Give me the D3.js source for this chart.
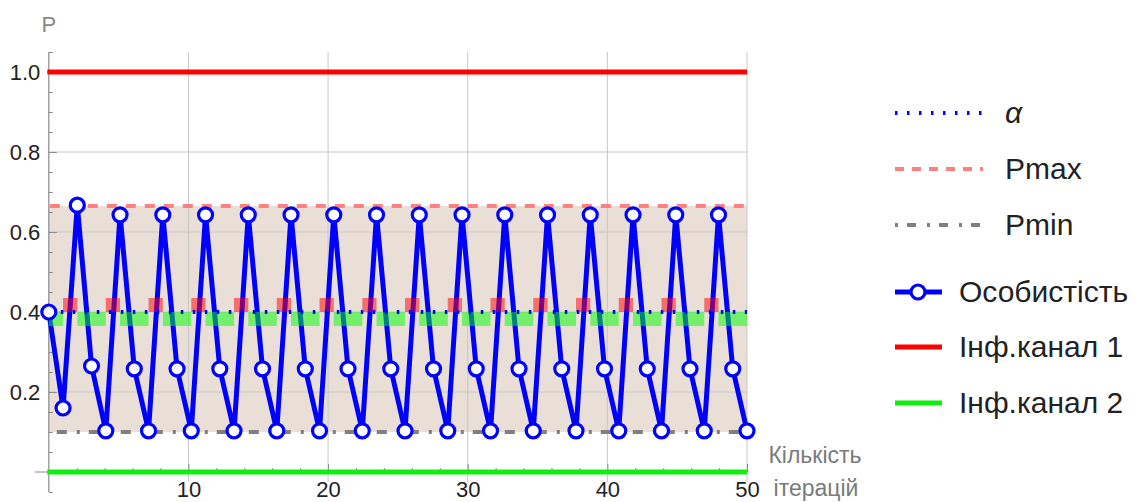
<!DOCTYPE html>
<html><head><meta charset="utf-8">
<script src="https://cdn.jsdelivr.net/npm/d3@7"></script>
<style>body{margin:0;background:#fff}svg{display:block;font-family:"Liberation Sans",Arial,sans-serif}</style>
</head><body>
<svg id="c" width="1137" height="502"></svg>
<script>
// ---- data ----
const personality = [0.40, 0.16, 0.667, 0.265, 0.103,
  0.643, 0.258, 0.103, 0.643, 0.258, 0.103, 0.643, 0.258, 0.103,
  0.643, 0.258, 0.103, 0.643, 0.258, 0.103, 0.643, 0.258, 0.103,
  0.643, 0.258, 0.103, 0.643, 0.258, 0.103, 0.643, 0.258, 0.103,
  0.643, 0.258, 0.103, 0.643, 0.258, 0.103, 0.643, 0.258, 0.103,
  0.643, 0.258, 0.103, 0.643, 0.258, 0.103, 0.643, 0.258, 0.103];
// channel used at each step (1 = Інф.канал 1, 2 = Інф.канал 2)
const channels = [2,
  1,2,2, 1,2,2, 1,2,2, 1,2,2, 1,2,2, 1,2,2, 1,2,2, 1,2,2,
  1,2,2, 1,2,2, 1,2,2, 1,2,2, 1,2,2, 1,2,2, 1,2,2, 1,2,2];
const alpha = 0.4;
const pMax = 0.665;
const pMin = 0.1;
const channel1Level = 1.0;
const channel2Level = 0.0;
const xRange = [0, 50];
const xTickValues = [10, 20, 30, 40, 50];
const xTickLabels = ["10", "20", "30", "40", "50"];
const yTickValues = [0.2, 0.4, 0.6, 0.8, 1.0];
const yTickLabels = ["0.2", "0.4", "0.6", "0.8", "1.0"];
const legendItems = ["α", "Pmax", "Pmin", "Особистість", "Інф.канал 1", "Інф.канал 2"];
const xAxisTitle = ["Кількість", "ітерацій"];
const yAxisTitle = "P";

// ---- scales ----
const svg = d3.select("#c");
const x = d3.scaleLinear().domain(xRange).range([48.8, 747]);
const y = d3.scaleLinear().domain([-0.05, 1.05]).range([492, 52]);
const idx = d3.scaleLinear().domain([0, personality.length - 1]).range(xRange);
const px = i => x(idx(i));

const BLUE = "#0000ff", RED = "#ff0000", GREEN = "#10ee10", PINK = "#ff8080", GRAY = "#808080";

// fill between Pmin and Pmax
svg.append("path")
  .datum(xRange)
  .attr("d", d3.area().x(d => x(d)).y0(y(pMin)).y1(y(pMax)))
  .attr("fill", "#e9dfd6");

// gridlines
const grid = svg.append("g").attr("stroke", "#c8c8c8").attr("stroke-width", 1);
grid.selectAll("line.v").data(xTickValues).join("line")
  .attr("x1", d => x(d)).attr("x2", d => x(d))
  .attr("y1", y(1.05)).attr("y2", 482);
grid.selectAll("line.h").data(yTickValues).join("line")
  .attr("x1", x(xRange[0])).attr("x2", x(xRange[1]))
  .attr("y1", d => y(d)).attr("y2", d => y(d));

// axes
const axisColor = "#8a8a8a";
svg.append("line").attr("x1", x(0)).attr("x2", x(0)).attr("y1", y(1.05)).attr("y2", y(-0.05))
  .attr("stroke", axisColor).attr("stroke-width", 1.2);
svg.append("line").attr("x1", 35).attr("x2", x(50)).attr("y1", y(0)).attr("y2", y(0))
  .attr("stroke", axisColor).attr("stroke-width", 1.2);

const minorY = d3.range(-1, 22).map(k => k * 0.05).filter(v => Math.abs(Math.round(v * 5) - v * 5) > 1e-6);
const gyMinor = svg.append("g").attr("transform", `translate(${x(0)},0)`)
  .call(d3.axisRight(y).tickValues(minorY).tickSize(4).tickFormat(""));
const gyMajor = svg.append("g").attr("transform", `translate(${x(0)},0)`)
  .call(d3.axisRight(y).tickValues([0].concat(yTickValues)).tickSize(8).tickFormat(""));
[gyMinor, gyMajor].forEach(g => { g.select(".domain").remove(); g.selectAll("line").attr("stroke", axisColor); });

const gyLab = svg.append("g").attr("transform", `translate(${x(0)},0)`)
  .call(d3.axisLeft(y).tickValues(yTickValues).tickSize(0).tickPadding(8.5)
    .tickFormat((d, i) => yTickLabels[i]));
gyLab.select(".domain").remove();
gyLab.selectAll("text").attr("font-size", 22).attr("fill", "#222").attr("font-family", "Liberation Sans, Arial, sans-serif").attr("dy", "0.36em");

const minorX = d3.range(1, 26).map(k => k * 2).filter(v => v % 10 !== 0);
const gxMinor = svg.append("g").attr("transform", `translate(0,${y(0)})`)
  .call(d3.axisTop(x).tickValues(minorX).tickSize(4).tickFormat(""));
const gxMajor = svg.append("g").attr("transform", `translate(0,${y(0)})`)
  .call(d3.axisTop(x).tickValues(xTickValues).tickSize(8).tickFormat(""));
[gxMinor, gxMajor].forEach(g => { g.select(".domain").remove(); g.selectAll("line").attr("stroke", axisColor); });
const gxLab = svg.append("g").attr("transform", `translate(0,${y(0)})`)
  .call(d3.axisBottom(x).tickValues(xTickValues).tickSize(0).tickPadding(9.5)
    .tickFormat((d, i) => xTickLabels[i]));
gxLab.select(".domain").remove();
gxLab.selectAll("text").attr("font-size", 22).attr("fill", "#222").attr("font-family", "Liberation Sans, Arial, sans-serif");

// axis titles
svg.append("text").attr("x", x(0)).attr("y", 32).attr("text-anchor", "middle")
  .attr("font-size", 22).attr("fill", "#888").text(yAxisTitle);
svg.append("text").attr("x", 815).attr("y", 463).attr("text-anchor", "middle")
  .attr("font-size", 23).attr("fill", "#7a7a7a").text(xAxisTitle[0]);
svg.append("text").attr("x", 816).attr("y", 496).attr("text-anchor", "middle")
  .attr("font-size", 23).attr("fill", "#7a7a7a").text(xAxisTitle[1]);

// channel lines
svg.append("line").attr("x1", x(xRange[0]) - 1.5).attr("x2", x(xRange[1])).attr("y1", y(channel1Level)).attr("y2", y(channel1Level))
  .attr("stroke", RED).attr("stroke-width", 5);
svg.append("line").attr("x1", x(xRange[0]) - 1.5).attr("x2", x(xRange[1])).attr("y1", y(channel2Level)).attr("y2", y(channel2Level))
  .attr("stroke", GREEN).attr("stroke-width", 5);

// Pmax, Pmin
svg.append("line").attr("x1", x(xRange[0])).attr("x2", x(xRange[1])).attr("y1", y(pMax)).attr("y2", y(pMax))
  .attr("stroke", PINK).attr("stroke-width", 4).attr("stroke-dasharray", "10,9").attr("stroke-dashoffset", -1);
svg.append("line").attr("x1", x(xRange[0])).attr("x2", x(xRange[1])).attr("y1", y(pMin)).attr("y2", y(pMin))
  .attr("stroke", GRAY).attr("stroke-width", 4).attr("stroke-dasharray", "10,10,3,9").attr("stroke-dashoffset", -8);

// personality line
svg.append("path").datum(personality)
  .attr("d", d3.line().x((d, i) => px(i)).y(d => y(d)))
  .attr("fill", "none").attr("stroke", BLUE).attr("stroke-width", 5).attr("stroke-linejoin", "round");

// channel per step blocks at alpha level
const bandH = 14;
svg.append("g").selectAll("rect").data(channels).join("rect")
  .attr("x", (d, i) => px(i))
  .attr("width", (d, i) => px(i + 1) - px(i))
  .attr("y", d => d === 1 ? y(alpha) - bandH : y(alpha))
  .attr("height", bandH)
  .attr("fill", d => d === 1 ? RED : "#00ff00")
  .attr("fill-opacity", 0.5);

// alpha dotted
svg.append("line").attr("x1", x(xRange[0])).attr("x2", x(xRange[1])).attr("y1", y(alpha)).attr("y2", y(alpha))
  .attr("stroke", BLUE).attr("stroke-width", 4).attr("stroke-dasharray", "2.5,9.5").attr("stroke-dashoffset", 0);

// markers
svg.append("g").selectAll("circle").data(personality).join("circle")
  .attr("cx", (d, i) => px(i)).attr("cy", d => y(d)).attr("r", 7)
  .attr("fill", "#fff").attr("stroke", BLUE).attr("stroke-width", 3.2);

// legend
const lg = svg.append("g");
const rowsY = [113, 169, 225, 292, 347, 403];
const lineStyles = [
  {stroke: BLUE, w: 4, dash: "2.5,9.5", x2: 983},
  {stroke: PINK, w: 4, dash: "9,8", x2: 983},
  {stroke: GRAY, w: 4, dash: "3,9,9,11", x2: 983},
  {stroke: BLUE, w: 5, dash: null, x2: 942},
  {stroke: RED, w: 5, dash: null, x2: 942},
  {stroke: GREEN, w: 5, dash: null, x2: 942}
];
legendItems.forEach((name, i) => {
  const s = lineStyles[i];
  const yy = rowsY[i];
  const l = lg.append("line").attr("x1", 895).attr("x2", s.x2).attr("y1", yy).attr("y2", yy)
    .attr("stroke", s.stroke).attr("stroke-width", s.w);
  if (s.dash) l.attr("stroke-dasharray", s.dash);
  if (i === 3) lg.append("circle").attr("cx", 918).attr("cy", yy).attr("r", 7)
    .attr("fill", "#fff").attr("stroke", BLUE).attr("stroke-width", 3.2);
  lg.append("text").attr("x", i < 3 ? 1005 : 959).attr("y", yy + 10)
    .attr("font-size", 30).attr("fill", "#222")
    .attr("font-style", i === 0 ? "italic" : "normal").text(name);
});
</script>
</body></html>
